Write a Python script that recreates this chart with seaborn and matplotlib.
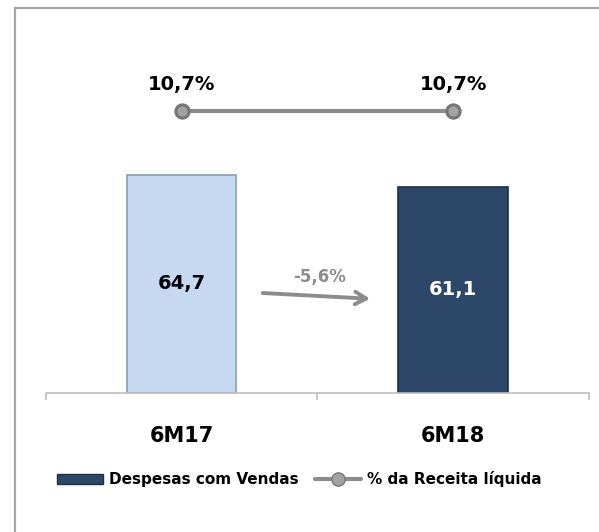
import matplotlib
matplotlib.use("Agg")
import matplotlib.pyplot as plt
from matplotlib.patches import Patch, Rectangle
from matplotlib.lines import Line2D
import pandas as pd
import seaborn as sns

# dados do grafico
periodos = ["6M17", "6M18"]
despesas = [64.7, 61.1]
pct_receita = [10.7, 10.7]
variacao = "-5,6%"
cores_barras = ["#c6d9f1", "#2c4768"]
cores_bordas = ["#8a9cb3", "#1c3048"]
cores_rotulos = ["black", "white"]

sns.set_style("white")
plt.rcParams["font.family"] = ["DejaVu Sans"]
plt.rcParams["text.color"] = "black"
plt.rcParams["xtick.color"] = "black"

df = pd.DataFrame({"periodo": periodos, "despesas": despesas, "pct": pct_receita})

fig = plt.figure(figsize=(5.99, 5.32), dpi=100)
ax = fig.add_axes([0.0764, 0.2613, 0.9065, 0.6635])

sns.barplot(data=df, x="periodo", y="despesas", hue="periodo", palette=cores_barras,
            saturation=1, width=0.405, linewidth=1.2, legend=False, ax=ax)
ax.set_ylim(0, 104.7)
ax.set_xlim(-0.5, 1.5)

for cont, cor, borda in zip(ax.containers, cores_rotulos, cores_bordas):
    for b in cont:
        b.set_edgecolor(borda)
    vals = [b.get_height() for b in cont]
    ax.bar_label(cont, labels=[f"{v:.1f}".replace(".", ",") for v in vals],
                 label_type="center", color=cor, fontsize=14, fontweight="bold")

# eixo secundario com % da receita
ax2 = ax.twinx()
sns.pointplot(data=df, x="periodo", y="pct", ax=ax2, color="#8c8c8c", errorbar=None,
              markers="o", markersize=9.5, linewidth=3, markeredgecolor="#767676",
              markerfacecolor="#a3a3a3")
ax2.set_ylim(0, 13.38)
ax2.set_xlim(-0.5, 1.5)
for i, v in enumerate(df["pct"]):
    ax2.annotate(f"{v:.1f}%".replace(".", ","), (i, v), xytext=(0, 19),
                 textcoords="offset points", ha="center", va="center",
                 fontsize=14, fontweight="bold", color="black")

for a in (ax, ax2):
    a.set_xlabel("")
    a.set_ylabel("")
    a.set_yticks([])
    for s in ["top", "left", "right"]:
        a.spines[s].set_visible(False)
ax2.spines["bottom"].set_visible(False)
ax.spines["bottom"].set_color("#bfbfbf")
ax.spines["bottom"].set_linewidth(1.2)

ax.set_xticks([0, 1])
ax.set_xticklabels(periodos, fontsize=15, fontweight="bold", color="black")
ax.tick_params(axis="x", which="major", bottom=True, length=0, pad=24)
ax.set_xticks([-0.5, 0.5, 1.5], minor=True)
ax.tick_params(axis="x", which="minor", bottom=True, length=5, color="#bfbfbf",
               width=1.2, direction="out")
ax2.tick_params(axis="x", length=0, labelbottom=False)

# seta de variacao
ax.annotate("", xy=(0.705, 27.9), xytext=(0.289, 29.7),
            arrowprops=dict(arrowstyle="->,head_length=0.8,head_width=0.45",
                            color="#8c8c8c", lw=2.8))
ax.text(0.507, 34.4, variacao, ha="center", va="center", color="#8c8c8c",
        fontsize=12, fontweight="bold")

# legenda
handles = [Patch(facecolor=cores_barras[1], edgecolor=cores_bordas[1]),
           Line2D([0], [0], color="#8c8c8c", lw=3, marker="o", markersize=9.5,
                  markerfacecolor="#a3a3a3", markeredgecolor="#767676")]
fig.legend(handles, ["Despesas com Vendas", "% da Receita líquida"], loc="center",
           bbox_to_anchor=(0.5, 0.0996), ncol=2, frameon=False, handlelength=3.0,
           handleheight=0.65, handletextpad=0.4, columnspacing=1.1,
           prop={"weight": "bold", "size": 11})

# moldura
fig.patches.append(Rectangle((15 / 599, -0.1), 1.2, 1.1 - 8 / 532, transform=fig.transFigure,
                             fill=False, edgecolor="#a6a6a6", lw=1.6))

fig.savefig("out.png", dpi=100)
